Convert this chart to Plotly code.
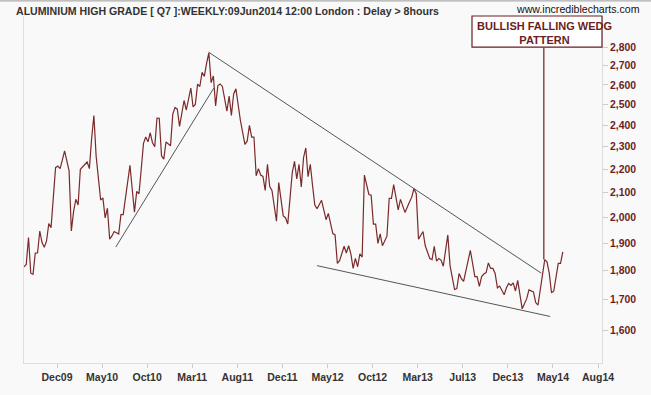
import plotly.graph_objects as go
import math

# ---- data (weekly closes, week index from start of visible window) ----
weeks = [0, 1, 2, 3, 4, 5, 6, 7, 8, 9, 10, 11, 12, 14, 15, 16, 17, 18, 20, 21,
         22, 23, 24, 25, 28, 29, 30, 31, 32, 34, 35, 36, 37, 38, 39, 40, 42, 43, 44, 47,
         48, 49, 50, 51, 52, 53, 54, 55, 56, 57, 58, 59, 60, 61, 62, 63, 65, 66, 67, 68,
         69, 71, 72, 74, 75, 76, 77, 78, 79, 80, 81, 82, 83, 84, 85, 86, 87, 88, 90, 91,
         92, 93, 94, 96, 98, 99, 100, 101, 102, 103, 104, 105, 106, 107, 108, 109, 110, 112, 113, 114,
         115, 116, 117, 118, 119, 120, 121, 122, 123, 124, 125, 126, 127, 128, 129, 130, 132, 134, 135, 137,
         138, 139, 140, 142, 143, 144, 145, 146, 147, 148, 149, 150, 151, 153, 154, 155, 156, 157, 158, 159,
         161, 162, 163, 164, 166, 167, 169, 171, 172, 173, 174, 175, 176, 177, 178, 180, 181, 182, 183, 184,
         185, 186, 188, 189, 191, 192, 193, 194, 195, 196, 198, 200, 201, 202, 203, 204, 205, 206, 207, 208,
         209, 210, 211, 213, 214, 215, 216, 217, 218, 219, 220, 221, 223, 224, 226, 227, 228, 230, 231, 232,
         233, 234, 235, 237, 238, 239]
closes = [1814, 1822, 1922, 1791, 1787, 1864, 1864, 1947, 1903, 1885, 1909, 1976, 1960, 2207, 2214, 2203, 2240, 2282, 2193, 1947,
          2024, 2073, 2050, 2200, 2232, 2203, 2339, 2447, 2258, 2070, 2079, 1998, 2037, 1916, 1928, 1945, 1935, 2011, 2011, 2217,
          2116, 2021, 2106, 2096, 2200, 2316, 2345, 2323, 2365, 2319, 2301, 2435, 2434, 2260, 2245, 2322, 2305, 2454, 2486, 2478,
          2395, 2521, 2474, 2584, 2489, 2501, 2604, 2592, 2666, 2644, 2715, 2770, 2612, 2646, 2494, 2597, 2605, 2592, 2468, 2543,
          2447, 2554, 2580, 2423, 2311, 2326, 2400, 2345, 2345, 2172, 2203, 2175, 2169, 2110, 2222, 2126, 2110, 1985, 2143, 2083,
          2006, 1999, 1974, 2077, 2186, 2235, 2159, 2222, 2124, 2251, 2295, 2168, 2222, 2131, 2050, 2035, 2069, 1991, 2016, 1937,
          1932, 1826, 1836, 1889, 1864, 1891, 1861, 1808, 1844, 1814, 1861, 1849, 2175, 2093, 2090, 1974, 1974, 1900, 1936, 1891,
          1927, 2077, 2077, 2134, 2030, 2073, 2020, 2062, 2082, 2118, 2096, 1916, 1932, 1945, 1891, 1844, 1840, 1889, 1834, 1844,
          1838, 1816, 1932, 1818, 1734, 1737, 1790, 1772, 1762, 1801, 1874, 1779, 1779, 1745, 1779, 1788, 1793, 1828, 1808, 1808,
          1790, 1740, 1746, 1716, 1740, 1755, 1748, 1757, 1729, 1766, 1723, 1669, 1703, 1733, 1726, 1690, 1681, 1791, 1840, 1832,
          1791, 1723, 1729, 1826, 1826, 1868]

# trend lines: (start week, end week) and (start value, end value)
support_weeks = [40.7, 84.2]
support_vals = [1886, 2584]
resist_weeks = [81.9, 229.5]
resist_vals = [2774, 1791]
lower_weeks = [130.0, 233.4]
lower_vals = [1818, 1644]

# callout
callout_week = 230.6
callout_vals = [1840, 2800]
callout_text = "BULLISH FALLING WEDG<br>PATTERN"

x_labels = ["Dec09", "May10", "Oct10", "Mar11", "Aug11", "Dec11", "May12",
            "Oct12", "Mar13", "Jul13", "Dec13", "May14", "Aug14"]
first_tick = 14.64
tick_step = 20
y_ticks = [1600, 1700, 1800, 1900, 2000, 2100, 2200, 2300, 2400, 2500, 2600, 2700, 2800]

title_text = "ALUMINIUM HIGH GRADE [ Q7 ]:WEEKLY:09Jun2014 12:00 London : Delay > 8hours"
site_text = "www.incrediblecharts.com"

# ---- styling ----
PRICE = "#7a2a2a"
TREND = "#555555"
DARKRED = "#6b1e1e"
BG = "#f9f9f9"
FONT = "Liberation Sans"

fig = go.Figure()
fig.add_trace(go.Scatter(x=weeks, y=closes, mode="lines",
                         line=dict(color=PRICE, width=1.2), hoverinfo="skip"))
for wx, wy in [(support_weeks, support_vals), (resist_weeks, resist_vals), (lower_weeks, lower_vals)]:
    fig.add_trace(go.Scatter(x=wx, y=wy, mode="lines",
                             line=dict(color=TREND, width=1), hoverinfo="skip"))
fig.add_trace(go.Scatter(x=[callout_week, callout_week], y=callout_vals, mode="lines",
                         line=dict(color=DARKRED, width=1.2), hoverinfo="skip"))

tickvals = [first_tick + tick_step * i for i in range(len(x_labels))]

y_lo, y_hi = 1499.3, 2980
PW, PH = 578, 356  # plot area size in px (for paper offsets)

fig.update_layout(
    width=651, height=395,
    margin=dict(l=24, r=49, t=16, b=23),
    paper_bgcolor=BG, plot_bgcolor=BG,
    showlegend=False,
    font=dict(family=FONT),
    xaxis=dict(range=[0, 256.4], tickmode="array", tickvals=tickvals, ticktext=x_labels,
               ticks="outside", ticklen=4, tickcolor="#cccccc",
               showgrid=False, zeroline=False, showline=True, linecolor="#dddddd", linewidth=1,
               tickfont=dict(family=FONT, size=10.5, color="#333333", weight="bold")),
    yaxis=dict(type="log", range=[math.log10(y_lo), math.log10(y_hi)], side="right",
               tickmode="array", tickvals=y_ticks, ticktext=[f"{v:,}" for v in y_ticks],
               ticks="outside", ticklen=5, tickcolor="#cccccc",
               showgrid=False, zeroline=False, showline=True, mirror=True,
               linecolor="#dddddd", linewidth=1,
               tickfont=dict(family=FONT, size=10.4, color=DARKRED, weight="bold")),
    shapes=[
        dict(type="line", xref="paper", yref="paper", x0=-24/PW, x1=1 + 49/PW,
             y0=1 + 15.5/PH, y1=1 + 15.5/PH, line=dict(color="#999999", width=1)),
        dict(type="rect", xref="paper", yref="paper", x0=(472 - 24) / PW, x1=1.0,
             y0=1 - 32/PH, y1=1.0, fillcolor="#ffffff", line=dict(color=DARKRED, width=1.2),
             layer="above"),
    ],
    annotations=[
        dict(xref="paper", yref="paper", x=-10/PW, y=1 + 5.5/PH, xanchor="left", yanchor="middle",
             text=title_text, showarrow=False,
             font=dict(family=FONT, size=10.6, color="#333333", weight="bold")),
        dict(xref="paper", yref="paper", x=1 + 40/PW, y=1 + 7/PH, xanchor="right", yanchor="middle",
             text=site_text, showarrow=False,
             font=dict(family=FONT, size=10.6, color="#111111")),
        dict(xref="paper", yref="paper", x=(544 - 24) / PW, y=1 - 17/PH, xanchor="center", yanchor="middle",
             text=callout_text, showarrow=False, align="center",
             font=dict(family=FONT, size=11, color=DARKRED, weight="bold")),
    ],
)

fig.write_html("out.html", config={"displayModeBar": False},
               post_script="document.body.style.margin='0';")
